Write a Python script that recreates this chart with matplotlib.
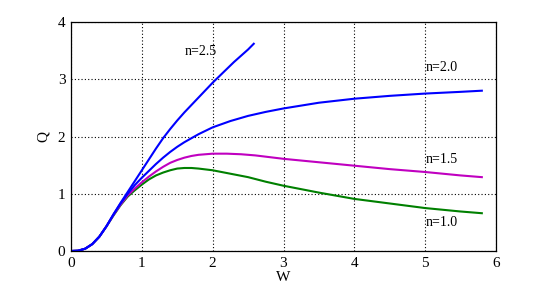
import numpy as np
import matplotlib
matplotlib.use('Agg')
from matplotlib import pyplot as plt

# values
w_low = [0, 0.1, 0.2, 0.3, 0.4, 0.5, 0.6, 0.7, 0.8, 0.9]
q_25_low = [0, 0.005, 0.04, 0.12, 0.25, 0.43, 0.64, 0.84, 1.03, 1.22]
q_20_low = [0, 0.005, 0.04, 0.12, 0.25, 0.43, 0.64, 0.83, 1.0, 1.15]
q_15_low = [0, 0.005, 0.04, 0.12, 0.25, 0.43, 0.63, 0.81, 0.97, 1.09]
q_10_low = [0, 0.005, 0.04, 0.12, 0.25, 0.43, 0.62, 0.8, 0.95, 1.06]

w_25 = w_low + [1.0, 1.1, 1.2, 1.3, 1.4, 1.5, 1.6, 1.7, 1.8, 1.9, 2.0, 2.1, 2.2, 2.3, 2.4, 2.5, 2.58]
q_25 = q_25_low + [1.41, 1.6, 1.79, 1.97, 2.13, 2.28, 2.42, 2.55, 2.68, 2.81, 2.94, 3.06, 3.18, 3.3, 3.41, 3.52, 3.62]

w_20 = w_low + [1.0, 1.1, 1.2, 1.3, 1.4, 1.5, 1.6, 1.8, 2.0, 2.25, 2.5, 2.75, 3.0, 3.5, 4.0, 4.5, 5.0, 5.5, 5.8]
q_20 = q_20_low + [1.28, 1.4, 1.52, 1.63, 1.73, 1.82, 1.9, 2.04, 2.16, 2.27, 2.36, 2.43, 2.49, 2.59, 2.66, 2.71, 2.75, 2.78, 2.8]

w_15 = w_low + [1.0, 1.1, 1.2, 1.3, 1.4, 1.5, 1.6, 1.7, 1.8, 2.0, 2.2, 2.4, 2.6, 2.8, 3.0, 3.5, 4.0, 4.5, 5.0, 5.5, 5.8]
q_15 = q_15_low + [1.2, 1.3, 1.39, 1.47, 1.54, 1.59, 1.63, 1.66, 1.68, 1.7, 1.7, 1.69, 1.67, 1.64, 1.61, 1.55, 1.49, 1.43, 1.38, 1.32, 1.29]

w_10 = w_low + [1.0, 1.1, 1.2, 1.3, 1.4, 1.5, 1.6, 1.7, 1.8, 2.0, 2.25, 2.5, 2.75, 3.0, 3.5, 4.0, 4.5, 5.0, 5.5, 5.8]
q_10 = q_10_low + [1.16, 1.25, 1.32, 1.37, 1.41, 1.44, 1.45, 1.45, 1.44, 1.41, 1.35, 1.29, 1.21, 1.14, 1.02, 0.91, 0.83, 0.75, 0.69, 0.66]

labels = ['n=2.5', 'n=2.0', 'n=1.5', 'n=1.0']
label_pos = [(1.6, 3.48), (5.0, 3.2), (5.0, 1.59), (5.0, 0.49)]

plt.rcParams['font.family'] = 'Liberation Serif'

fig = plt.figure(figsize=(5.49, 2.93), dpi=100)
ax = fig.add_axes([71 / 549, 1 - 251 / 293, 425 / 549, 229 / 293])

ax.plot(w_10, q_10, color='#008000', lw=1.5)
ax.plot(w_15, q_15, color='#c000c0', lw=1.5)
ax.plot(w_20, q_20, color='#0000ff', lw=1.5)
ax.plot(w_25, q_25, color='#0000ff', lw=1.5)

for txt, (x, y) in zip(labels, label_pos):
    ax.text(x, y, txt, fontsize=10, va='center', ha='left')

ax.set_xlim(0, 6)
ax.set_ylim(0, 4)
ax.set_xticks(range(7))
ax.set_yticks(range(5))
ax.grid(True, color='black', linestyle=(0, (1, 2)), linewidth=0.8)
ax.tick_params(direction='in', length=0, labelsize=11, pad=4)
for s in ax.spines.values():
    s.set_linewidth(0.9)
ax.set_xlabel('W', fontsize=11, labelpad=1)
ax.set_ylabel('Q', fontsize=11, labelpad=6)

fig.savefig('out.png', dpi=100)
